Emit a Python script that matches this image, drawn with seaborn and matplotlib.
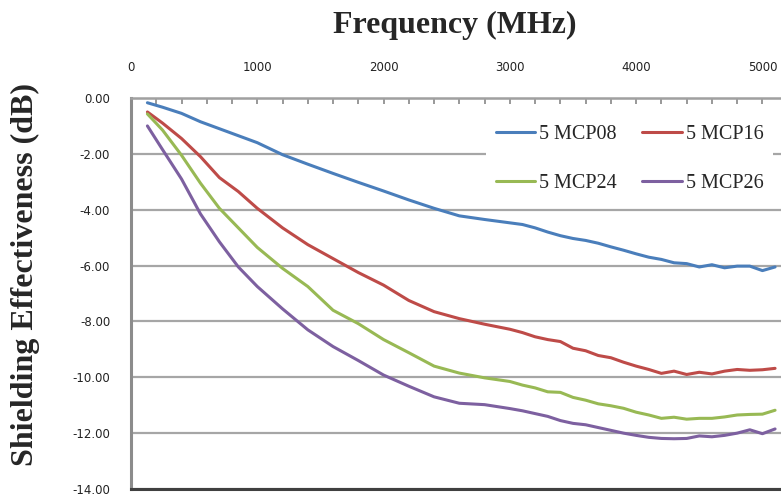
import numpy as np
import pandas as pd
import matplotlib
matplotlib.use("Agg")
import matplotlib.pyplot as plt
import seaborn as sns
from matplotlib.ticker import MultipleLocator, FuncFormatter

freq = [130, 250, 400, 550, 700, 850, 1000, 1200, 1400, 1600, 1800, 2000, 2200,
        2400, 2600, 2800, 3000, 3100, 3200, 3300, 3400, 3500, 3600, 3700, 3800,
        3900, 4000, 4100, 4200, 4300, 4400, 4500, 4600, 4700, 4800, 4900, 5000, 5100]

mcp08 = [-0.17, -0.33, -0.55, -0.85, -1.10, -1.35, -1.60, -2.03, -2.37, -2.70, -3.02,
         -3.33, -3.65, -3.95, -4.22, -4.35, -4.47, -4.53, -4.65, -4.80, -4.93, -5.03,
         -5.10, -5.20, -5.33, -5.45, -5.58, -5.70, -5.78, -5.90, -5.93, -6.05, -5.97,
         -6.08, -6.02, -6.02, -6.18, -6.05]
mcp16 = [-0.50, -0.90, -1.45, -2.10, -2.85, -3.35, -3.95, -4.65, -5.25, -5.75, -6.25,
         -6.70, -7.25, -7.65, -7.90, -8.10, -8.28, -8.40, -8.55, -8.65, -8.72, -8.96,
         -9.05, -9.22, -9.30, -9.46, -9.60, -9.72, -9.86, -9.78, -9.90, -9.82, -9.88,
         -9.78, -9.72, -9.75, -9.73, -9.68]
mcp24 = [-0.57, -1.15, -2.05, -3.05, -3.95, -4.65, -5.35, -6.10, -6.75, -7.60, -8.08,
         -8.65, -9.12, -9.60, -9.85, -10.02, -10.15, -10.28, -10.38, -10.52, -10.54,
         -10.72, -10.82, -10.95, -11.02, -11.11, -11.25, -11.35, -11.47, -11.43, -11.50,
         -11.47, -11.47, -11.42, -11.35, -11.33, -11.32, -11.18]
mcp26 = [-1.00, -1.85, -2.90, -4.15, -5.15, -6.05, -6.75, -7.55, -8.30, -8.90, -9.40,
         -9.92, -10.32, -10.70, -10.93, -10.98, -11.12, -11.20, -11.30, -11.40, -11.55,
         -11.65, -11.70, -11.80, -11.90, -12.00, -12.08, -12.15, -12.19, -12.20, -12.19,
         -12.10, -12.13, -12.08, -12.00, -11.88, -12.02, -11.85]

series_names = ["5 MCP08", "5 MCP16", "5 MCP24", "5 MCP26"]
series_vals = [mcp08, mcp16, mcp24, mcp26]
colors = ["#4A7EBB", "#BE4B48", "#98B954", "#7D60A0"]

x_ticks = [0, 1000, 2000, 3000, 4000, 5000]
y_ticks = [0, -2, -4, -6, -8, -10, -12, -14]

df = pd.concat([pd.DataFrame({"freq": freq, "se": v, "sample": n})
                for n, v in zip(series_names, series_vals)], ignore_index=True)

sns.set_theme(style="white")
fig = plt.figure(figsize=(7.81, 4.97), dpi=100)
ax = fig.add_axes([131/781, 1 - 489/497, 1 - 131/781, (489 - 98)/497])

sns.lineplot(data=df, x="freq", y="se", hue="sample", palette=colors,
             linewidth=2.2, ax=ax, legend=False, zorder=3)

ax.set_xlim(0, 5147)
ax.set_ylim(-14, 0)
ax.set_xticks(x_ticks)
ax.xaxis.set_minor_locator(MultipleLocator(200))
ax.set_yticks(y_ticks)
ax.yaxis.set_major_formatter(FuncFormatter(lambda v, p: f"{v:.2f}"))
ax.xaxis.tick_top()
ax.tick_params(axis="x", which="major", direction="in", length=4, width=1.2,
               color="#888888", pad=17, labelsize=8.5, labelcolor="#222222")
ax.tick_params(axis="x", which="minor", direction="in", length=4, width=1.2,
               color="#888888", top=True, bottom=False)
ax.tick_params(axis="y", length=0, pad=15, labelsize=8.5, labelcolor="#222222")
ax.grid(axis="y", color="#a6a6a6", linewidth=1.6)
ax.grid(axis="x", visible=False)
ax.set_xlabel("")
ax.set_ylabel("")

ax.spines["right"].set_visible(False)
ax.spines["left"].set_color("#8c8c8c")
ax.spines["left"].set_linewidth(2.2)
ax.spines["top"].set_color("#a0a0a0")
ax.spines["top"].set_linewidth(1.8)
ax.spines["bottom"].set_color("#404040")
ax.spines["bottom"].set_linewidth(2.2)

# legend filled row-wise: (08, 16) then (24, 26)
order = [0, 2, 1, 3]
handles = [plt.Line2D([], [], color=colors[i], linewidth=2.2) for i in order]
labels = [series_names[i] for i in order]
leg = ax.legend(handles, labels, ncol=2, loc="upper left",
                bbox_to_anchor=(486/781, 1 - 115/497), bbox_transform=fig.transFigure,
                frameon=True, facecolor="white", edgecolor="none", framealpha=1,
                prop={"family": "Liberation Serif", "size": 14.5},
                handlelength=1.95, handletextpad=0.2, columnspacing=1.25,
                labelspacing=1.5, borderpad=0.5, borderaxespad=0)
leg.set_zorder(5)

fig.text(455/781, 1 - 25/497, "Frequency (MHz)", ha="center", va="center",
         fontfamily="Liberation Serif", fontweight="bold", fontsize=23)
fig.text(25/781, 1 - 274/497, "Shielding Effectiveness (dB)", ha="center",
         va="center", rotation=90, fontfamily="Liberation Serif",
         fontweight="bold", fontsize=23)

fig.savefig("out.png", dpi=100)
